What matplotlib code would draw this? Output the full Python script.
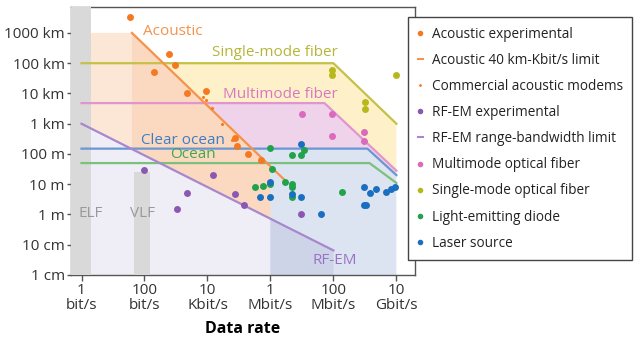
import matplotlib
matplotlib.use('Agg')
import matplotlib.pyplot as plt
from matplotlib.lines import Line2D
import numpy as np

plt.rcParams['font.family'] = ['Open Sans', 'DejaVu Sans']

# boundary lines: data rate (bit/s) -> range (m)
sm_rate = [1, 1e8, 1e10]
sm_range = [1e5, 1e5, 1e3]
mm_rate = [1, 5.2e7, 1e10]
mm_range = [4.8e3, 4.8e3, 28]
clear_rate = [1, 1.2e9, 1e10]
clear_range = [150, 150, 20]
ocean_rate = [1, 1.4e9, 1e10]
ocean_range = [50, 50, 11]
acoustic_rate = [40, 3e6]
acoustic_range = [1e6, 13]
rfem_rate = [1, 1e8]
rfem_range = [1000, 0.065]

elf_band = [0.46, 2]
vlf_band = [47, 148]
vlf_top = 25
acoustic_start = 2
acoustic_cut = 1e6

# measured points
ac_rate = [35, 600, 950, 195, 2300, 8700, 7.4e4, 8.5e4, 1.9e5, 5.0e5]
ac_range = [3.3e6, 2.0e5, 8.7e4, 5.0e4, 1.0e4, 1.2e4, 350, 180, 100, 62]
modem_rate = [7400, 8900, 1.4e4, 3.0e4, 5.9e4]
modem_range = [7900, 6000, 3400, 1000, 300]
rf_rate = [98, 2300, 1100, 1.5e4, 7.4e4, 1.5e5, 9.5e6]
rf_range = [30, 5.0, 1.5, 20, 4.7, 2.0, 1.05]
mmf_rate = [9.8e6, 9.3e7, 9.3e7, 9.3e8, 9.3e8]
mmf_range = [2100, 2100, 400, 520, 260]
smf_rate = [9.1e7, 9.1e7, 9.8e8, 9.8e8, 9.5e9]
smf_range = [5.8e4, 4.0e4, 5100, 3100, 4.0e4]
led_rate = [1.0e6, 1.15e6, 3.2e5, 5.6e5, 9.5e5, 2.9e6, 4.7e6, 4.7e6, 4.7e6,
            4.8e6, 9.5e6, 1.15e7, 1.9e8]
led_range = [155, 31, 8.3, 8.9, 10, 12, 10, 7.8, 3.7, 93, 93, 140, 5.4]
laser_rate = [9.5e6, 9.5e5, 9.5e5, 4.8e5, 4.7e6, 9.5e6, 3.9e7, 9.3e8, 1.4e9,
              2.2e9, 4.7e9, 6.8e9, 9.3e9, 9.5e8, 1.07e9]
laser_range = [210, 12, 3.8, 3.8, 4.7, 3.8, 1.05, 7.9, 5.0, 6.9, 5.4, 6.9,
               8.3, 2.0, 2.0]

xticks = [1, 1e2, 1e4, 1e6, 1e8, 1e10]
xlabels = ['1\nbit/s', '100\nbit/s', '10\nKbit/s', '1\nMbit/s', '100\nMbit/s', '10\nGbit/s']
yticks = [1e-2, 1e-1, 1, 10, 100, 1e3, 1e4, 1e5, 1e6]
ylabels = ['1 cm', '10 cm', '1 m', '10 m', '100 m', '1 km', '10 km', '100 km', '1000 km']
xlim = (0.464, 3.9e10)
ylim = (0.01, 7.2e6)

c_orange, c_purple, c_pink = '#f47920', '#8c57b2', '#db69bd'
c_olive, c_green, c_blue = '#b8b81c', '#22a24a', '#1b6fc0'


def on_line(rates, ranges, x):
    return 10 ** np.interp(np.log10(x), np.log10(rates), np.log10(ranges))


fig = plt.figure(figsize=(6.4, 3.4), dpi=100)
ax = fig.add_axes([71 / 640, 65 / 340, 344 / 640, 268 / 340])
ax.set_xscale('log')
ax.set_yscale('log')
ax.set_xlim(*xlim)
ax.set_ylim(*ylim)
ybot = ylim[0]

# shaded zones
ax.fill(sm_rate + mm_rate[::-1], sm_range + mm_range[::-1], color='#fef1c9', lw=0, zorder=1)
ax.fill(mm_rate + clear_rate[::-1], mm_range + clear_range[::-1], color='#eed3ea', lw=0, zorder=1)
ax.fill(clear_rate + [clear_rate[-1], clear_rate[0]], clear_range + [ybot, ybot],
        color='#dce4f2', lw=0, zorder=1)
r_cut = on_line(rfem_rate, rfem_range, acoustic_cut)
ax.fill([xlim[0], rfem_rate[0], acoustic_cut, acoustic_cut, xlim[0]],
        [rfem_range[0], rfem_range[0], r_cut, ybot, ybot], color='#efeef7', lw=0, zorder=2)
ax.fill([acoustic_cut, rfem_rate[1], rfem_rate[1], acoustic_cut],
        [r_cut, rfem_range[1], ybot, ybot], color='#cdd4e8', lw=0, zorder=2)
a0 = acoustic_rate[0]
ax.fill([acoustic_start, a0, a0, acoustic_start],
        [acoustic_range[0], acoustic_range[0], on_line(rfem_rate, rfem_range, a0),
         on_line(rfem_rate, rfem_range, acoustic_start)], color='#fce7d7', lw=0, zorder=2)
ax.fill([a0, acoustic_cut, acoustic_cut, a0],
        [acoustic_range[0], on_line(acoustic_rate, acoustic_range, acoustic_cut), r_cut,
         on_line(rfem_rate, rfem_range, a0)], color='#fad9c0', lw=0, zorder=2)

ax.axvspan(elf_band[0], elf_band[1], color='#d9d9d9', lw=0, zorder=3)
ax.fill_between(vlf_band, ybot, vlf_top, color='#d9d9d9', lw=0, zorder=3)

# boundary lines
lw = 1.6
ax.plot(sm_rate, sm_range, color='#c3c247', lw=lw, zorder=4)
ax.plot(mm_rate, mm_range, color='#e394cf', lw=lw, zorder=4)
ax.plot(clear_rate, clear_range, color='#6a97d3', lw=lw, zorder=4)
ax.plot(ocean_rate, ocean_range, color='#7cc07c', lw=lw, zorder=4)
ax.plot(rfem_rate, rfem_range, color='#a887cc', lw=lw, zorder=4)
ax.plot(acoustic_rate, acoustic_range, color='#f6924a', lw=lw, zorder=4)

# points
ms = 5
ax.plot(ac_rate, ac_range, 'o', color=c_orange, ms=ms, mew=0, zorder=5)
ax.plot(modem_rate, modem_range, 'o', color=c_orange, ms=2.2, mew=0, zorder=5)
ax.plot(rf_rate, rf_range, 'o', color=c_purple, ms=ms, mew=0, zorder=5)
ax.plot(mmf_rate, mmf_range, 'o', color=c_pink, ms=ms, mew=0, zorder=5)
ax.plot(smf_rate, smf_range, 'o', color=c_olive, ms=ms, mew=0, zorder=5)
ax.plot(led_rate, led_range, 'o', color=c_green, ms=ms, mew=0, zorder=5)
ax.plot(laser_rate, laser_range, 'o', color=c_blue, ms=ms, mew=0, zorder=5)

# zone labels
fs = 11
ax.text(90, 1.1e6, 'Acoustic', color='#f6924a', fontsize=fs, va='center', zorder=6)
ax.text(1.4e4, 2.2e5, 'Single-mode fiber', color='#b5b53a', fontsize=fs, va='center', zorder=6)
ax.text(3.1e4, 8.9e3, 'Multimode fiber', color='#d877c0', fontsize=fs, va='center', zorder=6)
ax.text(78, 270, 'Clear ocean', color='#3f7cc4', fontsize=fs, va='center', zorder=6)
ax.text(645, 93, 'Ocean', color='#3faa48', fontsize=fs, va='center', zorder=6)
ax.text(0.78, 1.05, 'ELF', color='#999999', fontsize=fs, va='center', zorder=6)
ax.text(35, 1.05, 'VLF', color='#999999', fontsize=fs, va='center', zorder=6)
ax.text(2.1e7, 0.031, 'RF-EM', color='#9a72c2', fontsize=fs, va='center', zorder=6)

ax.minorticks_off()
ax.set_xticks(xticks)
ax.set_xticklabels(xlabels, fontsize=fs, color='#333333')
for lab in ax.get_xticklabels():
    lab.set_linespacing(0.95)
ax.set_yticks(yticks)
ax.set_yticklabels(ylabels, fontsize=fs, color='#333333')
ax.tick_params(axis='x', length=4, width=1, pad=2, color='#555555')
ax.tick_params(axis='y', length=3, width=1, pad=1.5, color='#555555')
for sp in ax.spines.values():
    sp.set_color('#555555')
    sp.set_linewidth(1)
ax.set_xlabel('Data rate', fontsize=11.5, fontweight='bold', labelpad=6)

handles = [
    Line2D([], [], ls='', marker='o', ms=4, mew=0, color=c_orange),
    Line2D([], [], color='#f6924a', lw=1.5),
    Line2D([], [], ls='', marker='o', ms=2, mew=0, color=c_orange),
    Line2D([], [], ls='', marker='o', ms=4, mew=0, color=c_purple),
    Line2D([], [], color='#a887cc', lw=1.5),
    Line2D([], [], ls='', marker='o', ms=4, mew=0, color=c_pink),
    Line2D([], [], ls='', marker='o', ms=4, mew=0, color=c_olive),
    Line2D([], [], ls='', marker='o', ms=4, mew=0, color=c_green),
    Line2D([], [], ls='', marker='o', ms=4, mew=0, color=c_blue),
]
labels = ['Acoustic experimental', 'Acoustic 40 km-Kbit/s limit', 'Commercial acoustic modems',
          'RF-EM experimental', 'RF-EM range-bandwidth limit', 'Multimode optical fiber',
          'Single-mode optical fiber', 'Light-emitting diode', 'Laser source']
leg = fig.legend(handles, labels, loc='upper left', bbox_to_anchor=(408 / 640, 1 - 17 / 340),
                 borderaxespad=0, fontsize=9.8, handlelength=0.4, handletextpad=0.65,
                 labelspacing=0.82, borderpad=0.7, fancybox=False, framealpha=1,
                 edgecolor='#444444')
leg.get_frame().set_linewidth(1)
for t in leg.get_texts():
    t.set_color('#222222')

fig.savefig('out.png', dpi=100)
